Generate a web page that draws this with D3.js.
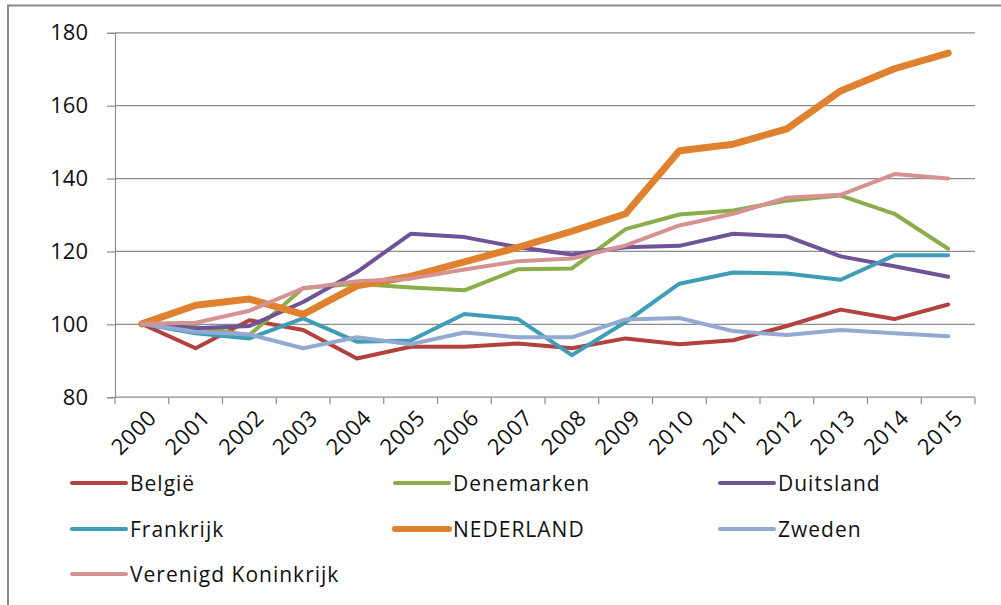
<!DOCTYPE html>
<html><head><meta charset="utf-8">
<script src="https://cdn.jsdelivr.net/npm/d3@7"></script>
<style>
html,body{margin:0;padding:0;background:#fff;}
svg text{font-family:"Open Sans",sans-serif;fill:#111;}
</style></head>
<body><svg id="c" width="1001" height="605"></svg>
<script>
const years = ["2000","2001","2002","2003","2004","2005","2006","2007","2008","2009","2010","2011","2012","2013","2014","2015"];
const yTicks = [80,100,120,140,160,180];
const belgie      = [100,93.3,101,98.3,90.5,93.7,93.7,94.6,93.3,96,94.4,95.5,99.4,103.9,101.3,105.3];
const denemarken  = [100,99.1,96.9,109.8,111,110,109.2,115,115.2,126,130,131.1,133.8,135.2,130.2,120.6];
const duitsland   = [100,98.8,99.4,106,114.2,124.7,123.8,121,119,121,121.4,124.7,124,118.5,115.8,112.9];
const frankrijk   = [100,97.4,96,101.5,95.1,95.4,102.7,101.3,91.4,100.5,111,114.1,113.8,112.1,118.8,118.8];
const nederland   = [100,105.1,106.8,102.6,110.4,113,117,121,125.4,130.2,147.5,149.3,153.5,163.9,170,174.3];
const zweden      = [100,97.8,97.1,93.3,96.3,94.4,97.6,96.3,96.3,101.2,101.6,98,96.9,98.3,97.4,96.6];
const vk          = [100,100.3,103.6,109.7,111.7,112.4,114.9,117.2,117.9,121.5,127,130.2,134.6,135.4,141.1,139.9];
const seriesNames = ["België","Denemarken","Duitsland","Frankrijk","NEDERLAND","Zweden","Verenigd Koninkrijk"];
const seriesColors = ["#B3413E","#8BAD4A","#6F5396","#3F9DB6","#E0812F","#92AAD2","#D69292"];
const seriesWidths = [4,4,4,4,7,4,4];
const seriesData = [belgie,denemarken,duitsland,frankrijk,nederland,zweden,vk];

const svg = d3.select("#c");
// outer frame
svg.append("path").attr("d","M8,605 V5.5 H1001").attr("fill","none").attr("stroke","#8a8a8a").attr("stroke-width",2);

const L=115, R=975, T=32.3, B=396.7;
const x = d3.scaleBand().domain(years).range([L,R]);
const y = d3.scaleLinear().domain([80,180]).range([B,T]);
const gridColor="#8c8c8c";

// gridlines
svg.append("g").selectAll("line").data(yTicks.filter(d=>d>80)).join("line")
  .attr("x1",L).attr("x2",R).attr("y1",d=>y(d)+0.5).attr("y2",d=>y(d)+0.5)
  .attr("stroke",gridColor).attr("stroke-width",1.2);

// y axis
const ya = svg.append("g").attr("transform",`translate(${L},0.5)`)
  .call(d3.axisLeft(y).tickValues(yTicks).tickSize(8).tickPadding(19));
ya.select(".domain").attr("stroke",gridColor).attr("stroke-width",1.2);
ya.selectAll(".tick line").attr("stroke",gridColor).attr("stroke-width",1.2);
ya.selectAll("text").attr("font-size",22).attr("font-family","Open Sans").attr("fill","#111");

// x axis
const xa = svg.append("g").attr("transform",`translate(0,${B+0.5})`);
xa.append("line").attr("x1",L).attr("x2",R).attr("stroke",gridColor).attr("stroke-width",1.2);
const bounds = years.map(d=>x(d)).concat([R]);
xa.selectAll("line.t").data(bounds).join("line").attr("class","t")
  .attr("x1",d=>d).attr("x2",d=>d).attr("y1",0).attr("y2",7).attr("stroke",gridColor).attr("stroke-width",1.2);
xa.selectAll("text").data(years).join("text")
  .attr("transform",d=>`translate(${x(d)+x.bandwidth()/2+5},${11}) rotate(-45)`)
  .attr("text-anchor","end").attr("dy","0.7em").attr("font-size",22).attr("letter-spacing",0.6).text(d=>d);

// lines
const line = d3.line().x((d,i)=>x(years[i])+x.bandwidth()/2).y(d=>y(d));
seriesData.forEach((s,k)=>{
  svg.append("path").datum(s).attr("d",line).attr("fill","none")
    .attr("stroke",seriesColors[k]).attr("stroke-width",seriesWidths[k])
    .attr("stroke-linejoin","round").attr("stroke-linecap","round");
});

// legend
const legPos = [[72,483],[395,483],[720,483],[72,529],[395,529],[720,529],[72,574]];
seriesNames.forEach((n,k)=>{
  const [lx,ly]=legPos[k];
  svg.append("line").attr("x1",lx).attr("x2",lx+54).attr("y1",ly).attr("y2",ly)
    .attr("stroke",seriesColors[k]).attr("stroke-width",k===4?6:4).attr("stroke-linecap","round");
  svg.append("text").attr("x",lx+58).attr("y",ly).attr("dy","0.36em").attr("font-size",21)
    .attr("letter-spacing",1).text(n);
});
</script></body></html>
